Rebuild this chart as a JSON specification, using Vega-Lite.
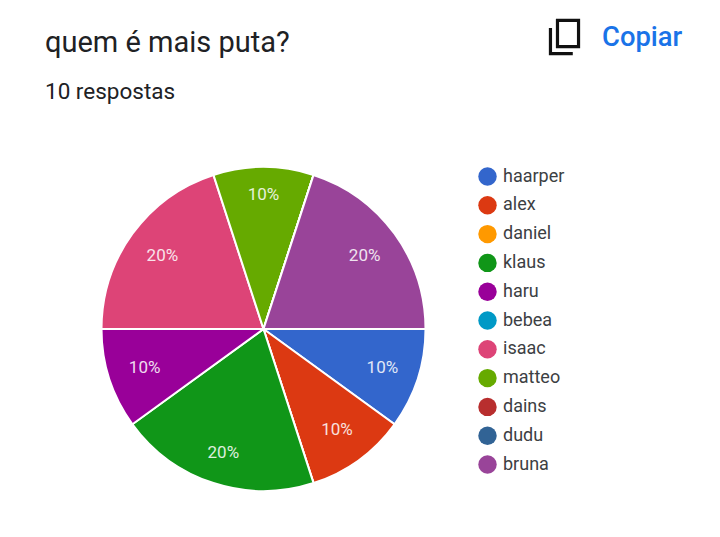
{"$schema":"https://vega.github.io/schema/vega-lite/v6.json","autosize":{"type":"none"},"width":720,"height":537,"padding":0,"background":"#ffffff","view":{"stroke":null},
"datasets":{"pie":[{"nome":"haarper","ordem":1,"v":10,"r":"10%"},{"nome":"alex","ordem":2,"v":10,"r":"10%"},{"nome":"daniel","ordem":3,"v":0,"r":""},{"nome":"klaus","ordem":4,"v":20,"r":"20%"},{"nome":"haru","ordem":5,"v":10,"r":"10%"},{"nome":"bebea","ordem":6,"v":0,"r":""},{"nome":"isaac","ordem":7,"v":20,"r":"20%"},{"nome":"matteo","ordem":8,"v":10,"r":"10%"},{"nome":"dains","ordem":9,"v":0,"r":""},{"nome":"dudu","ordem":10,"v":0,"r":""},{"nome":"bruna","ordem":11,"v":20,"r":"20%"}]},
"data":{"name":"pie"},
"layer":[
{"mark":{"type":"rule","x":1,"y":0,"y2":537,"stroke":"#dadce0","strokeWidth":2},"data":{"values":[{}]},"encoding":{}},
{"mark":{"type":"text","text":"quem é mais puta?","x":45,"y":43,"align":"left","baseline":"middle","font":"Roboto","fontSize":29,"color":"#202124"},"data":{"values":[{}]}},
{"mark":{"type":"text","text":"10 respostas","x":45,"y":92,"align":"left","baseline":"middle","font":"Roboto","fontSize":22.5,"color":"#202124"},"data":{"values":[{}]}},
{"mark":{"type":"text","text":"Copiar","x":602,"y":38,"align":"left","baseline":"middle","font":"Roboto","fontSize":27.4,"fontWeight":500,"color":"#1a73e8"},"data":{"values":[{}]}},
{"mark":{"type":"point","x":564.5,"y":37,"size":1296,"filled":false,"opacity":1,"stroke":"#111111","strokeWidth":3.2,"shape":"M -0.39 -0.92 L 0.78 -0.92 L 0.78 0.53 L -0.39 0.53 Z M -0.78 -0.5 L -0.78 0.92 L 0.46 0.92"},"data":{"values":[{}]}},
{"mark":{"type":"arc","stroke":"#ffffff","strokeWidth":2,"outerRadius":162,"x":263.5,"y":329},"encoding":{"theta":{"field":"v","type":"quantitative","stack":true,"scale":{"range":[1.5708,7.854]}},"order":{"field":"ordem"},"color":{"field":"nome","type":"nominal","sort":{"field":"ordem"},"scale":{"domain":["haarper","alex","daniel","klaus","haru","bebea","isaac","matteo","dains","dudu","bruna"],"range":["#3366cc","#dc3912","#ff9900","#109618","#990099","#0099c6","#dd4477","#66aa00","#b82e2e","#316395","#994499"]},"legend":{"orient":"none","legendX":478,"legendY":167,"title":null,"symbolType":"circle","symbolSize":340,"labelFont":"Roboto","labelFontSize":18,"labelColor":"#3c4043","rowPadding":9.8,"labelOffset":6,"symbolStrokeWidth":0}}}},
{"transform":[{"stack":"v","sort":[{"field":"ordem"}],"as":["a0","a1"]},{"calculate":"(datum.a0+datum.a1)/2","as":"meio"},{"filter":"datum.nome!=='matteo' && datum.nome!=='klaus'"}],"mark":{"type":"text","font":"Roboto","fontSize":17,"color":"#ffffff","opacity":0.85,"radius":125,"x":263.5,"y":329},"encoding":{"theta":{"field":"meio","type":"quantitative","scale":{"domain":[0,100],"range":[1.5708,7.854]}},"text":{"field":"r"}}},
{"transform":[{"stack":"v","sort":[{"field":"ordem"}],"as":["a0","a1"]},{"calculate":"(datum.a0+datum.a1)/2","as":"meio"},{"filter":"datum.nome==='matteo'"}],"mark":{"type":"text","font":"Roboto","fontSize":17,"color":"#ffffff","opacity":0.85,"radius":134,"x":263.5,"y":329},"encoding":{"theta":{"field":"meio","type":"quantitative","scale":{"domain":[0,100],"range":[1.5708,7.854]}},"text":{"field":"r"}}},
{"transform":[{"stack":"v","sort":[{"field":"ordem"}],"as":["a0","a1"]},{"calculate":"(datum.a0+datum.a1)/2","as":"meio"},{"filter":"datum.nome==='klaus'"}],"mark":{"type":"text","font":"Roboto","fontSize":17,"color":"#ffffff","opacity":0.85,"radius":130,"x":263.5,"y":329},"encoding":{"theta":{"field":"meio","type":"quantitative","scale":{"domain":[0,100],"range":[1.5708,7.854]}},"text":{"field":"r"}}}
]}
